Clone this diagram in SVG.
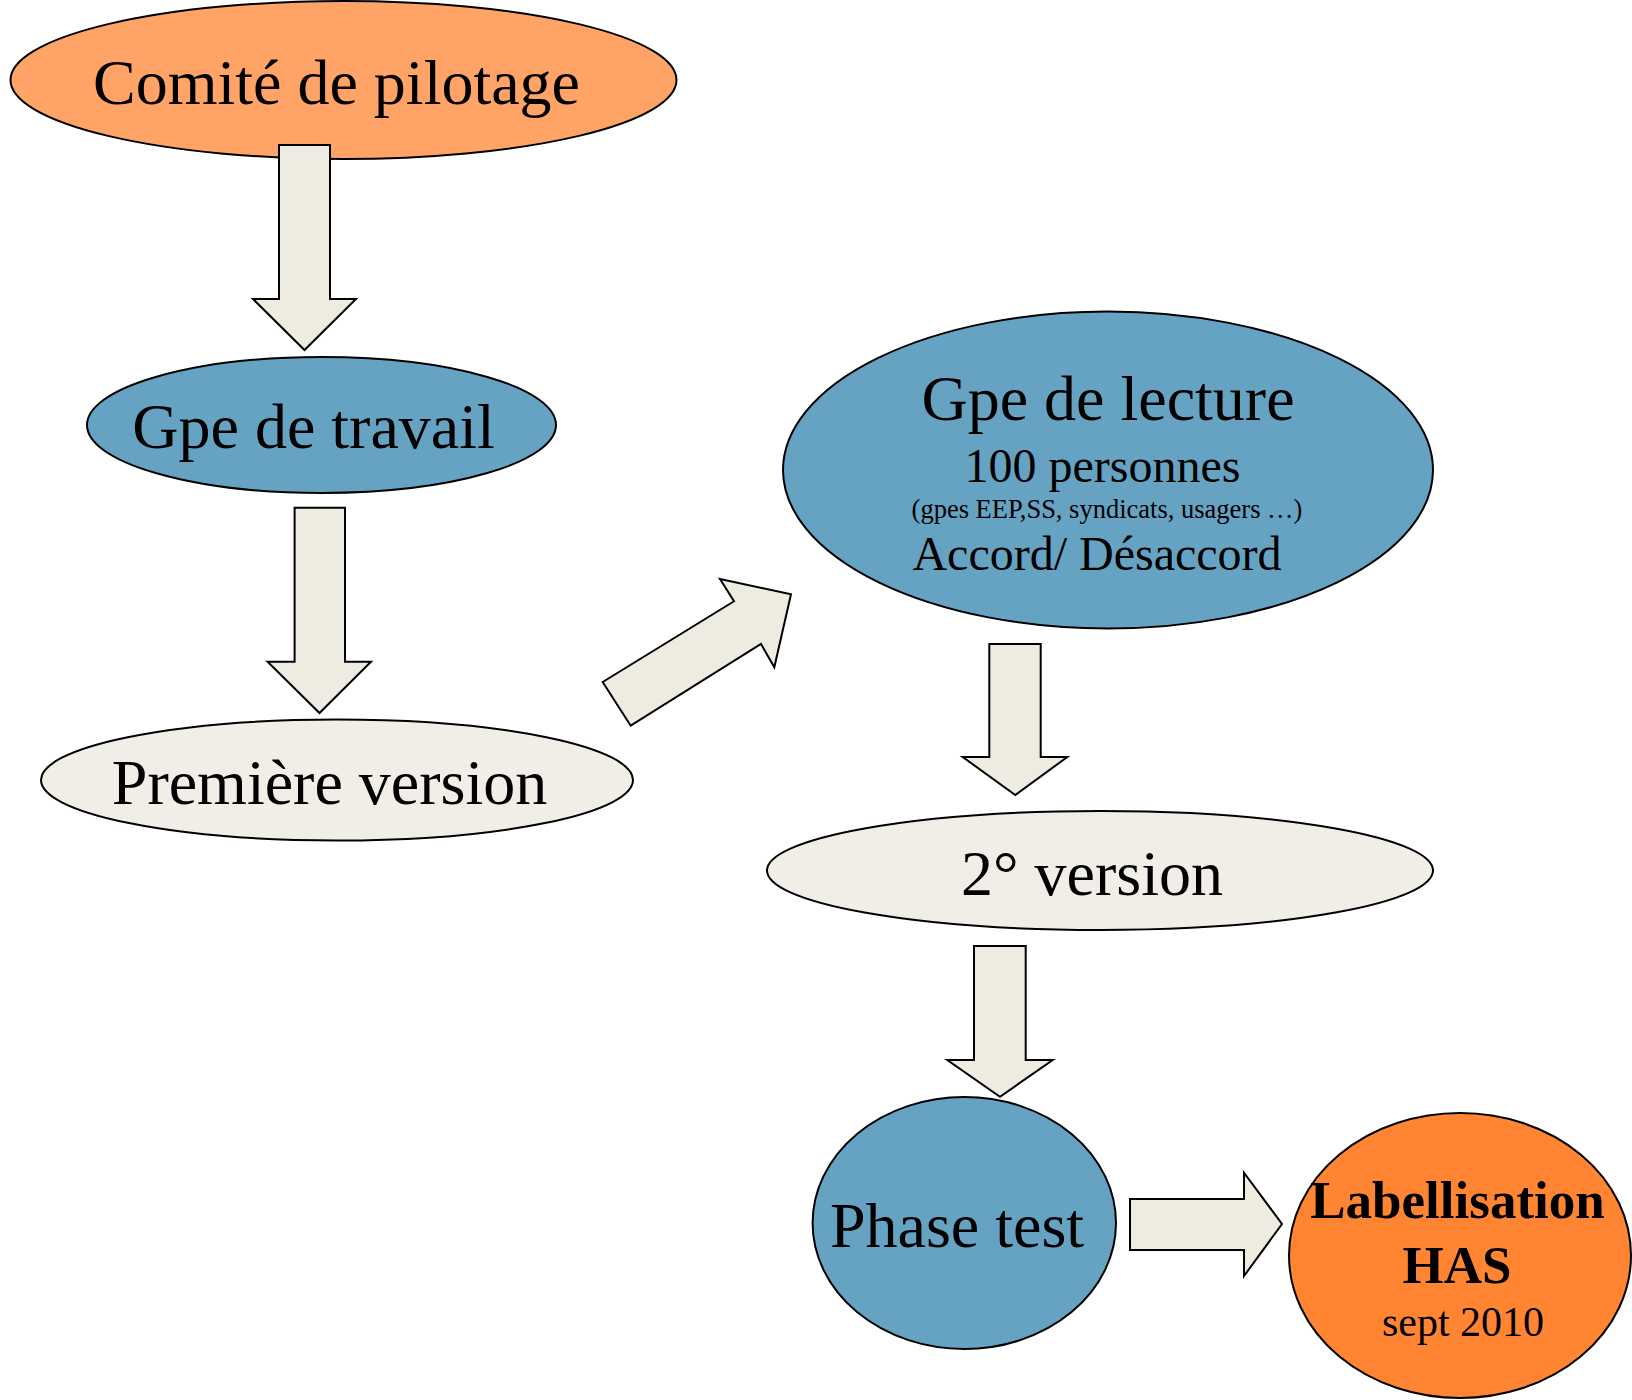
<svg xmlns="http://www.w3.org/2000/svg" width="1632" height="1400" viewBox="0 0 1632 1400">
<style>
.n{stroke:#000;stroke-width:2}
.o1{fill:#FFA366}
.o2{fill:#FF8533}
.b{fill:#66A3C2}
.l{fill:#F0EEE7}
.a{fill:#EEECE1;stroke:#000;stroke-width:2;stroke-linejoin:miter}
text{font-family:"Liberation Serif","Times New Roman",serif;fill:#000;text-anchor:middle}
.t64{font-size:64px}
.t48{font-size:48px}
.t26{font-size:26.5px}
.bold{font-weight:bold;font-size:53px}
</style>
<rect width="1632" height="1400" fill="#fff"/>
<g id="comite">
<ellipse class="n o1" cx="343.5" cy="80" rx="333" ry="79"/>
<text class="t64" x="336.5" y="104">Comité de pilotage</text>
</g>
<g id="gpe-travail">
<ellipse class="n b" cx="321.5" cy="425" rx="234.5" ry="68"/>
<text class="t64" x="313.5" y="448">Gpe de travail</text>
</g>
<g id="premiere-version">
<ellipse class="n l" cx="337" cy="780" rx="296" ry="60.5"/>
<text class="t64" x="329.5" y="804">Première version</text>
</g>
<g id="gpe-lecture">
<ellipse class="n b" cx="1108" cy="470" rx="325" ry="158.5"/>
<text class="t64" x="1108" y="420">Gpe de lecture</text>
<text class="t48" x="1102.5" y="482">100 personnes</text>
<text class="t26" x="1107" y="518">(gpes EEP,SS, syndicats, usagers …)</text>
<text class="t48" x="1097" y="570">Accord/ Désaccord</text>
</g>
<g id="deuxieme-version">
<ellipse class="n l" cx="1100" cy="870.5" rx="333" ry="59.5"/>
<text class="t64" x="1092" y="895">2° version</text>
</g>
<g id="phase-test">
<ellipse class="n b" cx="964.3" cy="1223" rx="151.7" ry="126"/>
<text class="t64" x="957" y="1246.7">Phase test</text>
</g>
<g id="labellisation">
<ellipse class="n o2" cx="1460" cy="1255.5" rx="171" ry="142.5"/>
<text class="bold" x="1457.5" y="1218">Labellisation</text>
<text class="bold" x="1457" y="1282.7">HAS</text>
<text style="font-size:42px" x="1463" y="1336">sept 2010</text>
</g>
<g id="connectors">
<polygon class="a" points="279,145 330,145 330,299 356,299 304.5,350 253,299 279,299"/>
<polygon class="a" points="294.6,507.7 345,507.7 345,661.7 371,661.7 319.5,713 267.6,661.7 294.6,661.7"/>
<polygon class="a" points="602.7,682 734,601.3 720,579 791,594.3 774.3,667.3 761,644 630.7,725.7"/>
<polygon class="a" points="989.3,644 1040.7,644 1040.7,757 1067.3,757 1015.3,795 962.7,757 989.3,757"/>
<polygon class="a" points="974,946 1025.7,946 1025.7,1060 1052.7,1060 1000,1096.7 947.3,1060 974,1060"/>
<polygon class="a" points="1130,1199 1244,1199 1244,1172.7 1282,1224 1244,1276 1244,1250 1130,1250"/>
</g>
</svg>
